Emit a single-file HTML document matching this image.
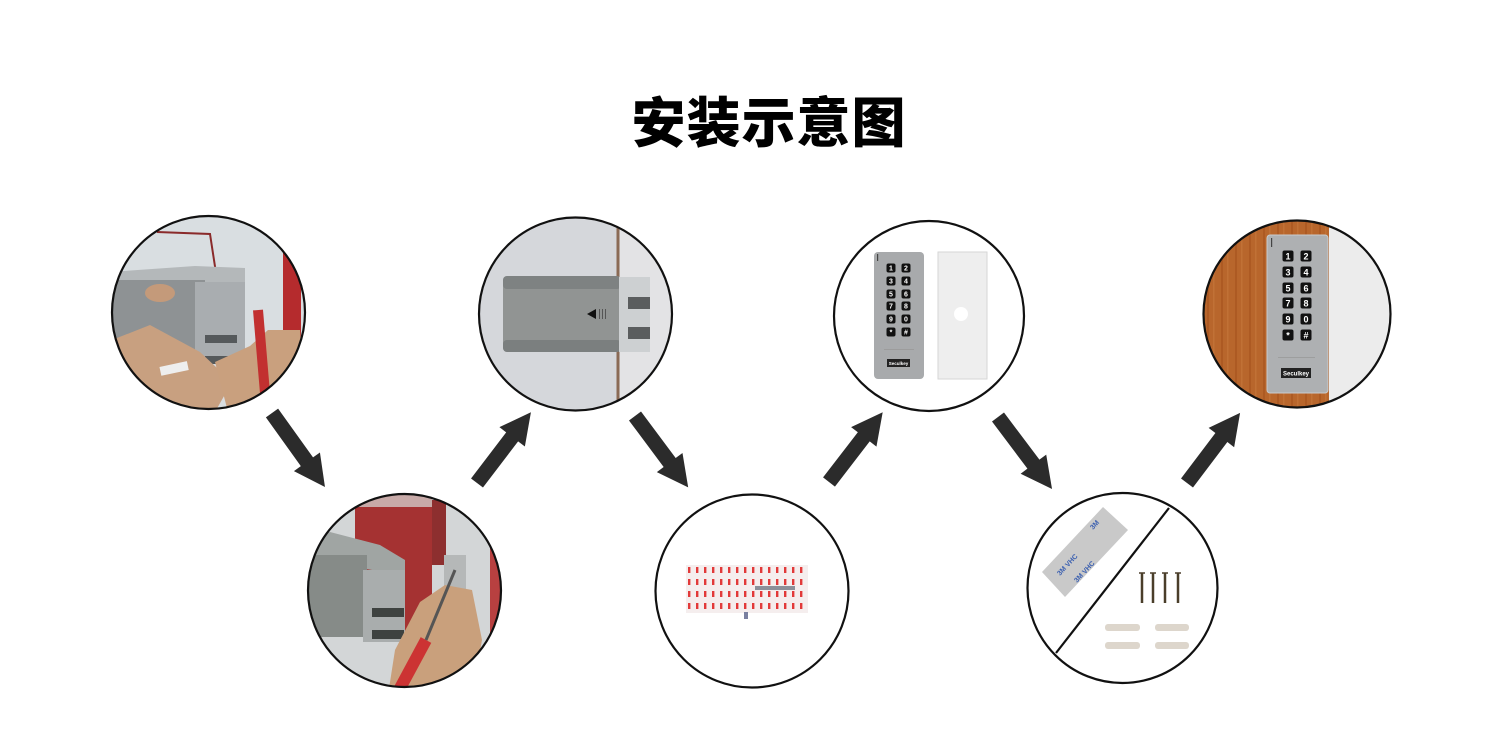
<!DOCTYPE html>
<html><head><meta charset="utf-8">
<style>
html,body{margin:0;padding:0;background:#fff;}
svg{display:block;}
</style></head>
<body>
<svg width="1511" height="756" viewBox="0 0 1511 756" xmlns="http://www.w3.org/2000/svg">
<defs>
<clipPath id="c1"><circle cx="208.5" cy="312.5" r="96"/></clipPath>
<clipPath id="c2"><circle cx="404.5" cy="590.5" r="96"/></clipPath>
<clipPath id="c3"><circle cx="575.5" cy="314" r="96"/></clipPath>
<clipPath id="c7"><circle cx="1297" cy="314" r="93"/></clipPath>
<pattern id="tp" x="686" y="565" width="8" height="12" patternUnits="userSpaceOnUse">
<rect x="2" y="2" width="2.4" height="6" fill="#e23a3a"/>
</pattern>
<pattern id="wood" x="0" y="0" width="14" height="200" patternUnits="userSpaceOnUse">
<rect width="14" height="200" fill="#b8662c"/>
<rect x="3" width="2" height="200" fill="#a9561f" opacity="0.7"/>
<rect x="9" width="1.5" height="200" fill="#c5763a" opacity="0.7"/>
</pattern>
</defs>
<rect width="1511" height="756" fill="#fff"/>

<!-- Title -->
<text x="769" y="142" text-anchor="middle" font-family="'Noto Sans CJK SC','WenQuanYi Zen Hei',sans-serif" font-weight="900" font-size="54" letter-spacing="1" fill="#000">安装示意图</text>

<!-- Circle 1 -->
<g clip-path="url(#c1)">
<rect x="100" y="200" width="220" height="230" fill="#d9dee1"/>
<rect x="283" y="250" width="18" height="170" fill="#b52b2d"/>
<polyline points="157,232 210,234 218,286" fill="none" stroke="#8a2a2a" stroke-width="2"/>
<polygon points="110,272 195,266 245,268 245,282 110,285" fill="#b4b8ba"/>
<rect x="110" y="280" width="95" height="78" fill="#8e9294"/>
<rect x="195" y="282" width="50" height="80" fill="#a9adb0"/>
<rect x="205" y="335" width="32" height="8" fill="#55595b"/>
<rect x="205" y="356" width="32" height="8" fill="#55595b"/>
<polygon points="112,340 150,325 200,352 232,382 215,412 160,412 112,385" fill="#c8a080"/>
<ellipse cx="160" cy="293" rx="15" ry="9" fill="#c49a7a"/>
<polygon points="215,362 250,346 268,330 300,330 306,405 228,412" fill="#c9a07e"/>
<line x1="258" y1="310" x2="266" y2="405" stroke="#c23030" stroke-width="10"/>
<rect x="160" y="364" width="28" height="9" fill="#eee" transform="rotate(-12 174 368)"/>
</g>
<circle cx="208.5" cy="312.5" r="96.5" fill="none" stroke="#111" stroke-width="2.2"/>

<!-- Circle 2 -->
<g clip-path="url(#c2)">
<rect x="300" y="490" width="210" height="205" fill="#d3d6d7"/>
<rect x="355" y="495" width="77" height="14" fill="#c8aaa8"/>
<rect x="355" y="507" width="77" height="125" fill="#a53232"/>
<rect x="432" y="500" width="14" height="65" fill="#8d2f2f"/>
<rect x="490" y="540" width="10" height="110" fill="#b84040"/>
<rect x="444" y="555" width="22" height="45" fill="#b5b8b8"/>
<polygon points="307,540 330,532 380,545 405,560 405,575 307,560" fill="#a0a5a3"/>
<rect x="307" y="555" width="60" height="82" fill="#868b88"/>
<rect x="363" y="570" width="42" height="72" fill="#a9adad"/>
<rect x="372" y="608" width="32" height="9" fill="#3e4240"/>
<rect x="372" y="630" width="32" height="9" fill="#3e4240"/>
<polygon points="395,650 420,602 445,585 472,590 482,640 472,695 388,695" fill="#c9a07c"/>
<line x1="398" y1="692" x2="426" y2="640" stroke="#c33" stroke-width="12"/>
<line x1="426" y1="640" x2="455" y2="570" stroke="#555" stroke-width="3"/>
</g>
<circle cx="404.5" cy="590.5" r="96.5" fill="none" stroke="#111" stroke-width="2.2"/>

<!-- Circle 3 -->
<g clip-path="url(#c3)">
<rect x="470" y="210" width="210" height="210" fill="#d5d7db"/>
<rect x="619" y="210" width="60" height="210" fill="#e3e3e5"/>
<rect x="616.5" y="210" width="3" height="210" fill="#8a6a55"/>
<rect x="503" y="276" width="118" height="76" rx="5" fill="#919493"/>
<rect x="503" y="276" width="118" height="13" rx="4" fill="#7e8282"/>
<rect x="503" y="340" width="118" height="12" rx="4" fill="#7b7f7f"/>
<rect x="619" y="277" width="31" height="75" fill="#cdd0d2"/>
<rect x="628" y="297" width="22" height="12" fill="#5a5d5e"/>
<rect x="628" y="327" width="22" height="12" fill="#5a5d5e"/>
<polygon points="587,314 596,309 596,319" fill="#111"/>
<rect x="599" y="309" width="1" height="10" fill="#555"/>
<rect x="602" y="309" width="1" height="10" fill="#555"/>
<rect x="605" y="309" width="1" height="10" fill="#555"/>
</g>
<circle cx="575.5" cy="314" r="96.5" fill="none" stroke="#111" stroke-width="2.2"/>

<!-- Circle 4 -->
<rect x="686" y="565" width="122" height="48" fill="#f5eeee"/>
<rect x="686" y="565" width="122" height="48" fill="url(#tp)"/>
<rect x="755" y="586" width="40" height="4" fill="#8c8f99"/>
<rect x="744" y="612" width="4" height="7" fill="#7a80a0"/>
<circle cx="752" cy="591" r="96.5" fill="none" stroke="#111" stroke-width="2.2"/>

<!-- Circle 5 -->
<rect x="874" y="252" width="50" height="127" rx="4" fill="#a8aaac"/>
<rect x="877" y="254" width="1.2" height="7" fill="#444"/>
<g fill="#111">
<rect x="886.5" y="263.5" width="9" height="9" rx="2"/><rect x="901.5" y="263.5" width="9" height="9" rx="2"/>
<rect x="886.5" y="276.5" width="9" height="9" rx="2"/><rect x="901.5" y="276.5" width="9" height="9" rx="2"/>
<rect x="886.5" y="289.5" width="9" height="9" rx="2"/><rect x="901.5" y="289.5" width="9" height="9" rx="2"/>
<rect x="886.5" y="301.5" width="9" height="9" rx="2"/><rect x="901.5" y="301.5" width="9" height="9" rx="2"/>
<rect x="886.5" y="314.5" width="9" height="9" rx="2"/><rect x="901.5" y="314.5" width="9" height="9" rx="2"/>
<rect x="886.5" y="327.5" width="9" height="9" rx="2"/><rect x="901.5" y="327.5" width="9" height="9" rx="2"/>
</g>
<g fill="#fff" font-family="'Liberation Sans',sans-serif" font-weight="bold" font-size="7" text-anchor="middle">
<text x="891" y="270.5">1</text><text x="906" y="270.5">2</text>
<text x="891" y="283.5">3</text><text x="906" y="283.5">4</text>
<text x="891" y="296.5">5</text><text x="906" y="296.5">6</text>
<text x="891" y="308.5">7</text><text x="906" y="308.5">8</text>
<text x="891" y="321.5">9</text><text x="906" y="321.5">0</text>
<text x="891" y="334.5">*</text><text x="906" y="334.5">#</text>
</g>
<rect x="884" y="349" width="30" height="0.8" fill="#999"/>
<rect x="887" y="359" width="23" height="8" fill="#222"/>
<text x="898.5" y="365" fill="#fff" font-family="'Liberation Sans',sans-serif" font-size="4.5" font-weight="bold" text-anchor="middle">Seculkey</text>
<rect x="938" y="252" width="49" height="127" fill="#eeeeee" stroke="#d6d6d6" stroke-width="1"/>
<circle cx="961" cy="314" r="7" fill="#fff"/>
<circle cx="929" cy="316" r="95" fill="none" stroke="#111" stroke-width="2.2"/>

<!-- Circle 6 -->
<polygon points="1042,572 1103,507 1128,530 1065,597" fill="#c9c9c9"/>
<g fill="#3a5fb0" font-family="'Liberation Sans',sans-serif" font-size="7" font-weight="bold">
<text transform="translate(1060,576) rotate(-47)">3M  VHC</text>
<text transform="translate(1077,583) rotate(-47)">3M  VHC</text>
<text transform="translate(1093,530) rotate(-47)">3M</text>
</g>
<line x1="1169" y1="508" x2="1056" y2="653" stroke="#111" stroke-width="2.2"/>
<g stroke="#4a3e2a" stroke-width="2.5">
<line x1="1142" y1="573" x2="1142" y2="603"/>
<line x1="1153" y1="573" x2="1153" y2="603"/>
<line x1="1165" y1="573" x2="1165" y2="603"/>
<line x1="1178" y1="573" x2="1178" y2="603"/>
</g>
<g stroke="#4a3e2a" stroke-width="1.5">
<line x1="1139" y1="573" x2="1145" y2="573"/>
<line x1="1150" y1="573" x2="1156" y2="573"/>
<line x1="1162" y1="573" x2="1168" y2="573"/>
<line x1="1175" y1="573" x2="1181" y2="573"/>
</g>
<g fill="#ddd6cc">
<rect x="1105" y="624" width="35" height="7" rx="3"/>
<rect x="1155" y="624" width="34" height="7" rx="3"/>
<rect x="1105" y="642" width="35" height="7" rx="3"/>
<rect x="1155" y="642" width="34" height="7" rx="3"/>
</g>
<circle cx="1122.5" cy="588" r="95" fill="none" stroke="#111" stroke-width="2.2"/>

<!-- Circle 7 -->
<g clip-path="url(#c7)">
<rect x="1195" y="215" width="135" height="200" fill="url(#wood)"/>
<rect x="1329" y="215" width="75" height="200" fill="#ececec"/>
<rect x="1267" y="235" width="61" height="158" rx="3" fill="#aeb0b2" stroke="#c9cbcd" stroke-width="1"/>
<rect x="1271" y="238" width="1.2" height="9" fill="#444"/>
<g fill="#111">
<rect x="1282.5" y="250.5" width="11" height="11" rx="2"/><rect x="1300.5" y="250.5" width="11" height="11" rx="2"/>
<rect x="1282.5" y="266.5" width="11" height="11" rx="2"/><rect x="1300.5" y="266.5" width="11" height="11" rx="2"/>
<rect x="1282.5" y="282.5" width="11" height="11" rx="2"/><rect x="1300.5" y="282.5" width="11" height="11" rx="2"/>
<rect x="1282.5" y="297.5" width="11" height="11" rx="2"/><rect x="1300.5" y="297.5" width="11" height="11" rx="2"/>
<rect x="1282.5" y="313.5" width="11" height="11" rx="2"/><rect x="1300.5" y="313.5" width="11" height="11" rx="2"/>
<rect x="1282.5" y="329.5" width="11" height="11" rx="2"/><rect x="1300.5" y="329.5" width="11" height="11" rx="2"/>
</g>
<g fill="#fff" font-family="'Liberation Sans',sans-serif" font-weight="bold" font-size="9" text-anchor="middle">
<text x="1288" y="259.5">1</text><text x="1306" y="259.5">2</text>
<text x="1288" y="275.5">3</text><text x="1306" y="275.5">4</text>
<text x="1288" y="291.5">5</text><text x="1306" y="291.5">6</text>
<text x="1288" y="306.5">7</text><text x="1306" y="306.5">8</text>
<text x="1288" y="322.5">9</text><text x="1306" y="322.5">0</text>
<text x="1288" y="338.5">*</text><text x="1306" y="338.5">#</text>
</g>
<rect x="1278" y="357" width="37" height="0.8" fill="#999"/>
<rect x="1281" y="368" width="30" height="10" fill="#222"/>
<text x="1296" y="375.5" fill="#fff" font-family="'Liberation Sans',sans-serif" font-size="6" font-weight="bold" text-anchor="middle">Seculkey</text>
</g>
<circle cx="1297" cy="314" r="93.5" fill="none" stroke="#111" stroke-width="2.2"/>

<!-- Arrows -->
<g fill="#2b2b2b">
<path d="M0,-7.5 L60,-7.5 L60,-16 L91,0 L60,16 L60,7.5 L0,7.5 Z" transform="translate(272,413) rotate(54.4)"/>
<path d="M0,-7.5 L58,-7.5 L58,-16 L89,0 L58,16 L58,7.5 L0,7.5 Z" transform="translate(477,483) rotate(-52.7)"/>
<path d="M0,-7.5 L58,-7.5 L58,-16 L89,0 L58,16 L58,7.5 L0,7.5 Z" transform="translate(635,416) rotate(53.3)"/>
<path d="M0,-7.5 L57,-7.5 L57,-16 L88,0 L57,16 L57,7.5 L0,7.5 Z" transform="translate(829,482) rotate(-52.4)"/>
<path d="M0,-7.5 L59,-7.5 L59,-16 L90,0 L59,16 L59,7.5 L0,7.5 Z" transform="translate(998,417) rotate(53.1)"/>
<path d="M0,-7.5 L57,-7.5 L57,-16 L88,0 L57,16 L57,7.5 L0,7.5 Z" transform="translate(1187,483) rotate(-52.9)"/>
</g>
</svg>
</body></html>
